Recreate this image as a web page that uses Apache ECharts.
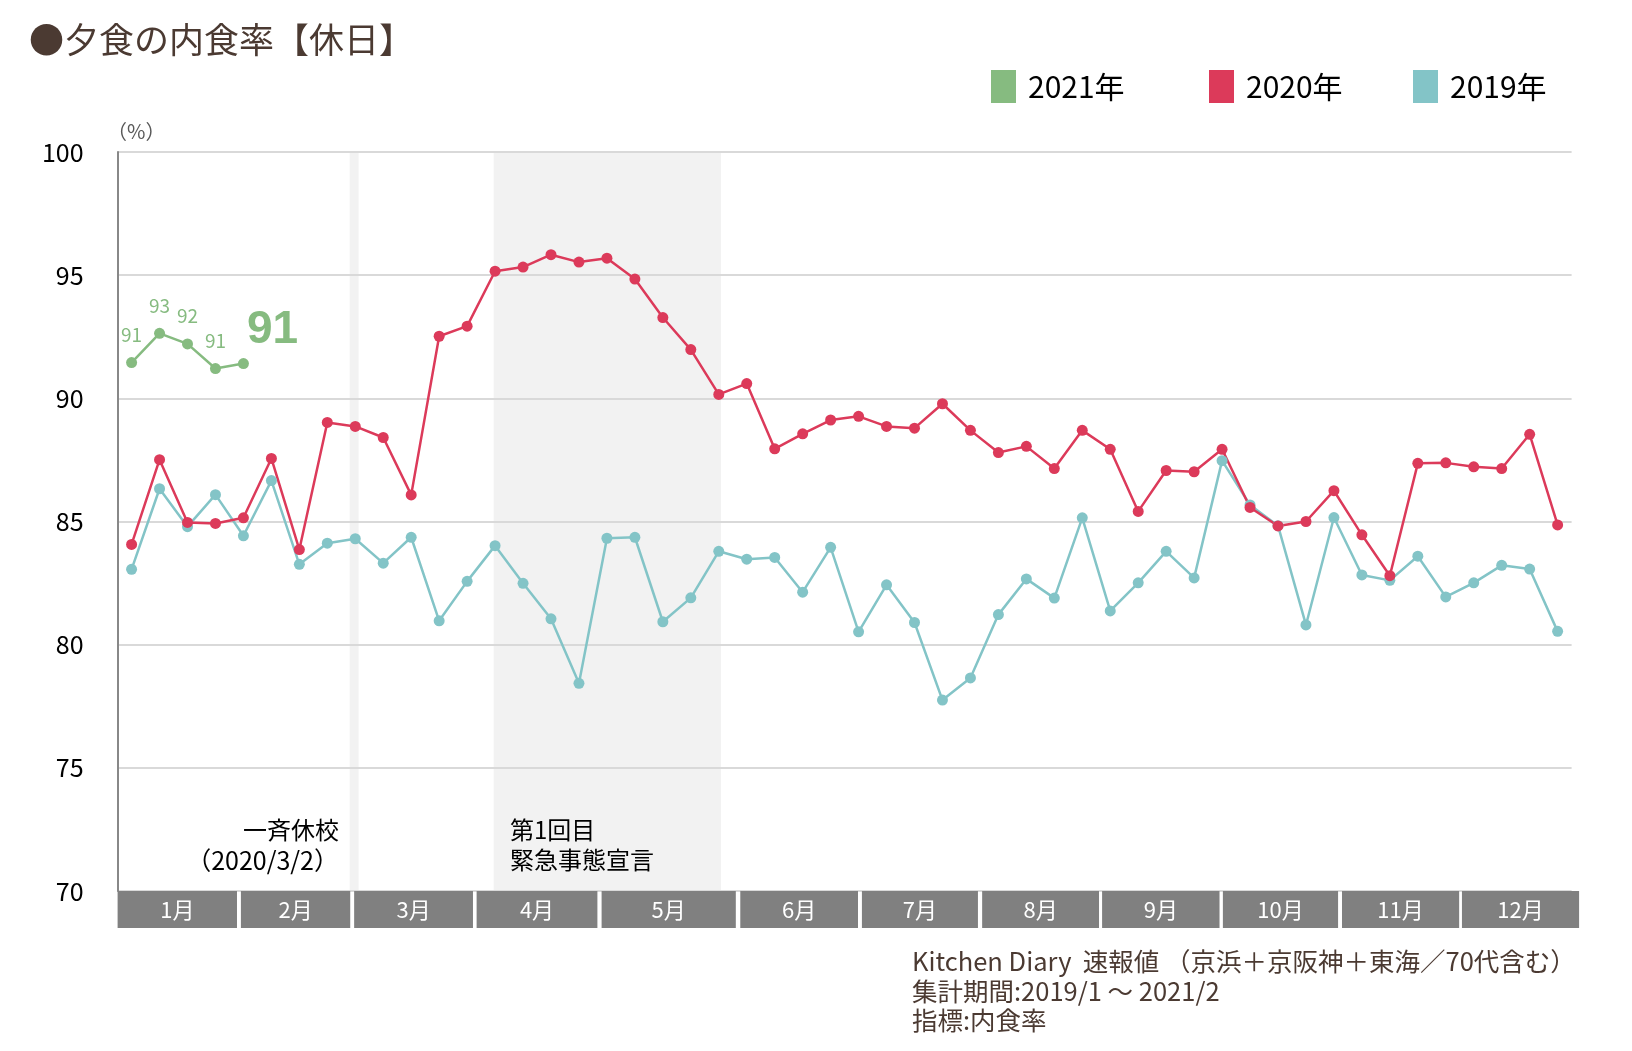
<!DOCTYPE html>
<html>
<head>
<meta charset="utf-8">
<title>夕食の内食率【休日】</title>
<script src="https://cdn.jsdelivr.net/npm/echarts@6/dist/echarts.min.js"></script>
<style>
  html, body { margin: 0; padding: 0; background: #fff; }
  #chart { width: 1632px; height: 1051px; }
</style>
</head>
<body>
<div id="chart"></div>
<script>
// 週ごとのカテゴリ（1年=52週）
const weeks = [
  'W1', 'W2', 'W3', 'W4', 'W5', 'W6', 'W7', 'W8', 'W9', 'W10',
  'W11', 'W12', 'W13', 'W14', 'W15', 'W16', 'W17', 'W18', 'W19', 'W20',
  'W21', 'W22', 'W23', 'W24', 'W25', 'W26', 'W27', 'W28', 'W29', 'W30',
  'W31', 'W32', 'W33', 'W34', 'W35', 'W36', 'W37', 'W38', 'W39', 'W40',
  'W41', 'W42', 'W43', 'W44', 'W45', 'W46', 'W47', 'W48', 'W49', 'W50',
  'W51', 'W52'
]

// 内食率（%）
const rate2021 = [91.45, 92.64, 92.21, 91.21, 91.41]
const rate2020 = [
  84.07, 87.51, 84.96, 84.92, 85.15, 87.56, 83.86, 89.02, 88.86, 88.41,
  86.08, 92.52, 92.93, 95.16, 95.33, 95.83, 95.53, 95.69, 94.84, 93.28,
  91.98, 90.16, 90.6, 87.95, 88.56, 89.12, 89.27, 88.86, 88.79, 89.78,
  88.7, 87.8, 88.05, 87.15, 88.7, 87.93, 85.41, 87.07, 87.02, 87.93,
  85.57, 84.82, 85.0, 86.25, 84.46, 82.8, 87.36, 87.38, 87.22, 87.15,
  88.54, 84.86
]
const rate2019 = [
  83.06, 86.33, 84.79, 86.09, 84.42, 86.66, 83.26, 84.12, 84.3, 83.31,
  84.36, 80.97, 82.57, 84.02, 82.49, 81.05, 78.43, 84.32, 84.36, 80.93,
  81.9, 83.79, 83.47, 83.54, 82.13, 83.95, 80.52, 82.43, 80.9, 77.75,
  78.65, 81.22, 82.67, 81.89, 85.15, 81.37, 82.51, 83.79, 82.71, 87.47,
  85.67, 84.83, 80.8, 85.16, 82.83, 82.61, 83.59, 81.94, 82.51, 83.22,
  83.07, 80.54
]

// 月の帯（週単位の開始・終了）
const months = ['1月', '2月', '3月', '4月', '5月', '6月', '7月', '8月', '9月', '10月', '11月', '12月']
const monthStartWeek = [0, 4.41, 8.46, 12.84, 17.31, 22.27, 26.62, 30.92, 35.21, 39.53, 43.79, 48.08]
const monthEndWeek = [4.27, 8.32, 12.71, 17.16, 22.11, 26.48, 30.77, 35.1, 39.41, 43.65, 47.98, 52.27]

// 一斉休校・緊急事態宣言の期間（週単位）
const closureWeeks = [8.3, 8.62]
const emergencyWeeks = [13.45, 21.58]

const yTicks = { min: 70, max: 100, interval: 5 }

const FONT = '"Noto Sans CJK JP", "Noto Sans", sans-serif'
const GREEN = '#86bb80'
const RED = '#dc3a5a'
const TEAL = '#83c4c7'

const chart = echarts.init(document.getElementById('chart'))

function lineSeries(name, values, color) {
  return {
    name: name,
    type: 'line',
    xAxisIndex: 0,
    yAxisIndex: 0,
    data: values,
    symbol: 'circle',
    symbolSize: 11,
    showAllSymbol: true,
    itemStyle: { color: color },
    lineStyle: { color: color, width: 2.5 },
    emphasis: { disabled: true },
    z: 2,
  }
}

// 2021年は最後の点だけ大きな数字
const series2021 = lineSeries('2021年', rate2021.map((v, i) => {
  if (i !== rate2021.length - 1) return v
  return {
    value: v,
    label: {
      position: 'right',
      distance: -2,
      offset: [0, -33],
      fontSize: 46,
      fontWeight: 'bold',
      fontFamily: '"Liberation Sans", Arial, sans-serif',
      color: GREEN,
    },
  }
}), GREEN)
series2021.label = {
  show: true,
  position: 'top',
  distance: 13,
  fontSize: 19,
  fontFamily: FONT,
  color: GREEN,
  formatter: (p) => Math.round(p.value),
}

const legendCommon = {
  top: 70,
  padding: 0,
  icon: 'rect',
  itemWidth: 25,
  itemHeight: 33,
  selectedMode: false,
  textStyle: { fontSize: 30, color: '#000', fontFamily: FONT, padding: [0, 0, 0, 7] },
}

const textStyle = (text, x, y, size, color, align) => ({
  type: 'text',
  x: x,
  y: y,
  z: 10,
  style: {
    text: text,
    font: size + 'px ' + FONT,
    fill: color,
    align: align || 'left',
    textAlign: align || 'left',
    verticalAlign: 'middle',
    textVerticalAlign: 'middle',
  },
})

const option = {
  animation: false,
  backgroundColor: '#fff',
  grid: [
    { left: 117.6, top: 152, width: 1454, height: 739 },
    { left: 117.6, top: 891, width: 1461.5, height: 37 },
  ],
  legend: [
    Object.assign({ data: ['2021年'], left: 991 }, legendCommon),
    Object.assign({ data: ['2020年'], left: 1209 }, legendCommon),
    Object.assign({ data: ['2019年'], left: 1413 }, legendCommon),
  ],
  xAxis: [
    { gridIndex: 0, type: 'category', data: weeks, boundaryGap: true, show: false },
    { gridIndex: 0, type: 'value', min: 0, max: weeks.length, show: false },
    { gridIndex: 1, type: 'value', min: 0, max: monthEndWeek[monthEndWeek.length - 1], show: false },
  ],
  yAxis: [
    {
      gridIndex: 0,
      type: 'value',
      min: yTicks.min,
      max: yTicks.max,
      interval: yTicks.interval,
      z: 1,
      axisLine: { show: true, lineStyle: { color: '#888', width: 2 } },
      axisTick: { show: false },
      axisLabel: { fontSize: 25, color: '#000', margin: 34, fontFamily: FONT },
      splitLine: { lineStyle: { color: '#d9d9d9', width: 2 } },
    },
    { gridIndex: 1, type: 'value', min: 0, max: 1, show: false },
  ],
  series: [
    {
      // 網掛け（一斉休校・緊急事態宣言）
      type: 'custom',
      xAxisIndex: 1,
      yAxisIndex: 0,
      z: 0,
      silent: true,
      data: [closureWeeks, emergencyWeeks],
      renderItem(params, api) {
        const s = api.coord([api.value(0), yTicks.max])
        const e = api.coord([api.value(1), yTicks.min])
        return {
          type: 'rect',
          shape: { x: s[0], y: s[1], width: e[0] - s[0], height: e[1] - s[1] },
          style: { fill: '#f2f2f2' },
        }
      },
    },
    {
      // 月の帯
      type: 'custom',
      xAxisIndex: 2,
      yAxisIndex: 1,
      silent: true,
      data: months.map((m, i) => [monthStartWeek[i], monthEndWeek[i]]),
      renderItem(params, api) {
        const s = api.coord([api.value(0), 1])
        const e = api.coord([api.value(1), 0])
        return {
          type: 'group',
          children: [
            {
              type: 'rect',
              shape: { x: s[0], y: s[1], width: e[0] - s[0], height: e[1] - s[1] },
              style: { fill: '#808080' },
            },
            {
              type: 'text',
              style: {
                text: months[params.dataIndex],
                x: (s[0] + e[0]) / 2,
                y: (s[1] + e[1]) / 2,
                font: '22px ' + FONT,
                fill: '#fff',
                align: 'center',
                textAlign: 'center',
                verticalAlign: 'middle',
                textVerticalAlign: 'middle',
              },
            },
          ],
        }
      },
    },
    lineSeries('2019年', rate2019, TEAL),
    lineSeries('2020年', rate2020, RED),
    series2021,
  ],
  graphic: [
    textStyle('●夕食の内食率【休日】', 29, 40, 35, '#4b3a32'),
    textStyle('（%）', 107, 131, 20, '#595959'),
    textStyle('一斉休校', 339, 830, 24, '#000', 'right'),
    textStyle('（2020/3/2）', 339, 860, 25, '#000', 'right'),
    textStyle('第1回目', 510, 830, 24, '#000'),
    textStyle('緊急事態宣言', 510, 860, 24, '#000'),
    textStyle('Kitchen Diary  速報値 （京浜＋京阪神＋東海／70代含む）', 912, 961, 25.5, '#4b3a32'),
    textStyle('集計期間:2019/1 ～ 2021/2', 912, 991, 25.5, '#4b3a32'),
    textStyle('指標:内食率', 912, 1020, 25.5, '#4b3a32'),
  ],
}

chart.setOption(option)
</script>
</body>
</html>
